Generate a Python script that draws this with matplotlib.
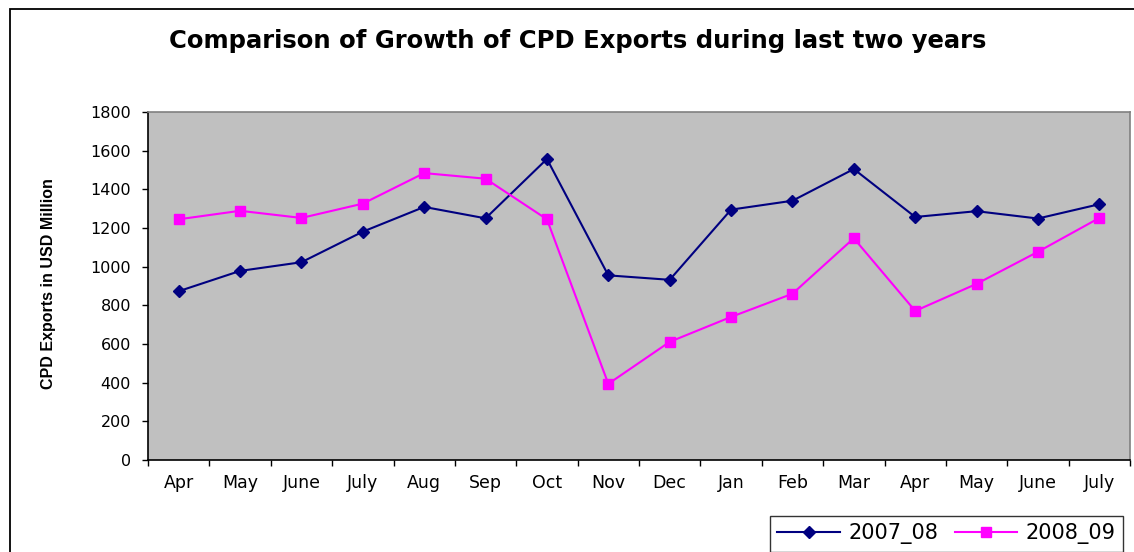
import matplotlib
matplotlib.use("Agg")
import matplotlib.pyplot as plt
from matplotlib.patches import Rectangle

months = ["Apr", "May", "June", "July", "Aug", "Sep", "Oct", "Nov", "Dec",
          "Jan", "Feb", "Mar", "Apr", "May", "June", "July"]
s2007_08 = [873, 978, 1023, 1181, 1309, 1250, 1557, 955, 932, 1295, 1341,
            1505, 1257, 1287, 1249, 1323]
s2008_09 = [1245, 1289, 1252, 1326, 1484, 1455, 1245, 394, 611, 740, 860,
            1147, 771, 911, 1077, 1252]
yticks = list(range(0, 1801, 200))

W, H = 1134, 552
fig = plt.figure(figsize=(W / 100, H / 100), dpi=100)
fig.patch.set_facecolor("white")

# outer chart border (extends past right/bottom edges)
fig.patches.append(Rectangle((10 / W, -0.2), 1.2, 1.2 - 9 / H,
                             transform=fig.transFigure, fill=False,
                             edgecolor="black", linewidth=1.3))

ax = fig.add_axes([148 / W, 1 - 460 / H, (1130 - 148) / W, (460 - 112) / H])
ax.set_facecolor("#C0C0C0")
x = list(range(len(months)))
l1, = ax.plot(x, s2007_08, color="#000080", marker="D", markersize=6.5,
              linewidth=1.5, label="2007_08")
l2, = ax.plot(x, s2008_09, color="#FF00FF", marker="s", markersize=7.5,
              linewidth=1.5, label="2008_09")

ax.set_xlim(-0.5, len(months) - 0.5)
ax.set_ylim(0, 1800)
ax.set_yticks(yticks)
ax.set_yticklabels([str(v) for v in yticks], fontsize=11.5,
                   family="DejaVu Sans")
ax.set_xticks([i - 0.5 for i in range(len(months) + 1)])
ax.set_xticklabels([])
ax.set_xticks(x, minor=True)
ax.set_xticklabels(months, minor=True, fontsize=12.5, family="DejaVu Sans")
ax.tick_params(axis="x", which="major", direction="out", length=4.3,
               width=1, color="black")
ax.tick_params(axis="x", which="minor", length=0, pad=10)
ax.tick_params(axis="y", direction="out", length=4.3, width=1, pad=8,
               color="black")
for s in ("top", "right"):
    ax.spines[s].set_color("#808080")
    ax.spines[s].set_linewidth(1.2)
for s in ("left", "bottom"):
    ax.spines[s].set_color("black")
    ax.spines[s].set_linewidth(1.2)

fig.text(49 / W, 1 - 284 / H, "CPD Exports in USD Million", rotation=90,
         ha="center", va="center", fontsize=11.5, fontweight="bold",
         family="Liberation Sans")

fig.text(578 / W, 1 - 48 / H,
         "Comparison of Growth of CPD Exports during last two years",
         ha="center", va="baseline", fontsize=17.5, fontweight="bold",
         family="DejaVu Sans")

leg = fig.legend(handles=[l1, l2], loc="upper left",
                 bbox_to_anchor=(770 / W, 1 - 516 / H), ncol=2,
                 frameon=True, fancybox=False, shadow=False,
                 prop={"family": "DejaVu Sans", "size": 15},
                 handlelength=3.0, columnspacing=0.8, handletextpad=0.4,
                 borderpad=0.35, borderaxespad=0)
leg.get_frame().set_edgecolor("black")
leg.get_frame().set_linewidth(1.0)

fig.savefig("out.png", dpi=100)
